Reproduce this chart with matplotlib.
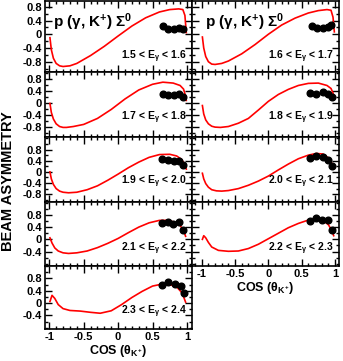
import numpy as np
import matplotlib
matplotlib.use('Agg')
import matplotlib.pyplot as plt
from matplotlib.ticker import MultipleLocator

plt.rcParams['font.family'] = ['Liberation Sans', 'DejaVu Sans']
plt.rcParams['font.weight'] = 'bold'
plt.rcParams['mathtext.fontset'] = 'custom'
plt.rcParams['mathtext.rm'] = 'Liberation Sans:bold'
plt.rcParams['mathtext.bf'] = 'Liberation Sans:bold'
plt.rcParams['mathtext.it'] = 'Liberation Sans:bold'

# energy bins (GeV), one panel each
e_bins = [(1.5, 1.6), (1.6, 1.7), (1.7, 1.8), (1.8, 1.9), (1.9, 2.0),
          (2.0, 2.1), (2.1, 2.2), (2.2, 2.3), (2.3, 2.4)]

# model curves
curve_x_1 = [-0.99, -0.97, -0.94, -0.9, -0.85, -0.8, -0.7, -0.6, -0.4, -0.2, 0.0, 0.2, 0.4, 0.6, 0.75, 0.88, 0.94, 0.97, 0.99]
curve_y_1 = [-0.1, -0.45, -0.7, -0.85, -0.92, -0.94, -0.92, -0.85, -0.62, -0.35, -0.05, 0.24, 0.48, 0.65, 0.72, 0.74, 0.72, 0.55, 0.05]
curve_x_2 = [-0.99, -0.97, -0.94, -0.9, -0.85, -0.8, -0.7, -0.6, -0.4, -0.2, 0.0, 0.2, 0.4, 0.6, 0.75, 0.88, 0.94, 0.97, 0.99]
curve_y_2 = [-0.08, -0.4, -0.65, -0.8, -0.87, -0.88, -0.85, -0.78, -0.57, -0.3, 0.0, 0.27, 0.47, 0.62, 0.69, 0.72, 0.7, 0.5, 0.07]
curve_x_3 = [-0.99, -0.97, -0.94, -0.9, -0.85, -0.8, -0.75, -0.65, -0.5, -0.3, -0.1, 0.1, 0.3, 0.5, 0.65, 0.8, 0.9, 0.95, 0.98, 0.99]
curve_y_3 = [0.0, -0.3, -0.52, -0.68, -0.77, -0.8, -0.8, -0.77, -0.7, -0.5, -0.2, 0.15, 0.45, 0.64, 0.71, 0.68, 0.6, 0.48, 0.25, 0.1]
curve_x_4 = [-0.99, -0.97, -0.94, -0.9, -0.85, -0.8, -0.72, -0.6, -0.45, -0.3, -0.15, 0.0, 0.15, 0.3, 0.45, 0.6, 0.75, 0.88, 0.94, 0.97, 0.99]
curve_y_4 = [-0.07, -0.35, -0.55, -0.68, -0.76, -0.79, -0.8, -0.77, -0.66, -0.5, -0.22, 0.07, 0.3, 0.47, 0.6, 0.67, 0.68, 0.6, 0.5, 0.35, 0.17]
curve_x_5 = [-0.99, -0.97, -0.94, -0.9, -0.85, -0.8, -0.72, -0.6, -0.45, -0.3, -0.15, 0.0, 0.15, 0.3, 0.45, 0.6, 0.75, 0.85, 0.92, 0.96, 0.99]
curve_y_5 = [0.0, -0.25, -0.45, -0.6, -0.69, -0.73, -0.75, -0.73, -0.64, -0.5, -0.3, -0.08, 0.15, 0.35, 0.52, 0.62, 0.63, 0.57, 0.45, 0.3, 0.1]
curve_x_6 = [-0.99, -0.97, -0.94, -0.9, -0.85, -0.78, -0.7, -0.6, -0.45, -0.3, -0.15, 0.0, 0.15, 0.3, 0.45, 0.6, 0.72, 0.82, 0.9, 0.95, 0.98]
curve_y_6 = [-0.05, -0.25, -0.42, -0.55, -0.64, -0.68, -0.69, -0.67, -0.6, -0.48, -0.33, -0.15, 0.07, 0.28, 0.47, 0.6, 0.66, 0.64, 0.5, 0.32, 0.12]
curve_x_7 = [-0.99, -0.96, -0.92, -0.87, -0.8, -0.72, -0.6, -0.45, -0.3, -0.15, 0.0, 0.15, 0.3, 0.45, 0.6, 0.72, 0.82, 0.9, 0.95, 0.98]
curve_y_7 = [0.05, -0.12, -0.28, -0.38, -0.44, -0.46, -0.44, -0.38, -0.27, -0.13, 0.03, 0.22, 0.4, 0.54, 0.62, 0.62, 0.56, 0.45, 0.3, 0.1]
curve_x_8 = [-0.99, -0.97, -0.94, -0.9, -0.85, -0.75, -0.6, -0.45, -0.3, -0.15, 0.0, 0.15, 0.3, 0.45, 0.6, 0.72, 0.82, 0.9, 0.95, 0.98]
curve_y_8 = [0.0, 0.12, 0.05, -0.1, -0.25, -0.36, -0.39, -0.38, -0.3, -0.16, 0.02, 0.2, 0.38, 0.52, 0.63, 0.67, 0.62, 0.48, 0.3, 0.12]
curve_x_9 = [-0.99, -0.96, -0.92, -0.87, -0.8, -0.7, -0.55, -0.4, -0.26, -0.1, 0.05, 0.2, 0.35, 0.5, 0.65, 0.78, 0.86, 0.92, 0.96, 0.98]
curve_y_9 = [0.05, 0.25, 0.15, -0.05, -0.18, -0.24, -0.26, -0.3, -0.33, -0.25, -0.05, 0.18, 0.38, 0.55, 0.62, 0.58, 0.5, 0.35, 0.15, 0.03]

# measured points
data_x_1 = [0.65, 0.73, 0.81, 0.88, 0.94]
data_y_1 = [0.25, 0.15, 0.15, 0.18, 0.15]
data_x_2 = [0.65, 0.73, 0.82, 0.89, 0.94]
data_y_2 = [0.24, 0.17, 0.17, 0.21, 0.26]
data_x_3 = [0.65, 0.73, 0.81, 0.88, 0.94]
data_y_3 = [0.33, 0.27, 0.27, 0.30, 0.20]
data_x_4 = [0.62, 0.71, 0.82, 0.9, 0.96]
data_y_4 = [0.36, 0.32, 0.38, 0.3, 0.21]
data_x_5 = [0.64, 0.73, 0.81, 0.88, 0.94]
data_y_5 = [0.47, 0.42, 0.40, 0.40, 0.25]
data_x_6 = [0.62, 0.72, 0.82, 0.9, 0.96]
data_y_6 = [0.5, 0.56, 0.54, 0.44, 0.2]
data_x_7 = [0.64, 0.72, 0.8, 0.88, 0.94]
data_y_7 = [0.52, 0.56, 0.5, 0.58, 0.3]
data_x_8 = [0.62, 0.72, 0.81, 0.9, 0.96]
data_y_8 = [0.61, 0.7, 0.63, 0.64, 0.3]
data_x_9 = [0.64, 0.73, 0.83, 0.91, 0.96]
data_y_9 = [0.6, 0.69, 0.62, 0.56, 0.31]

curves = [(curve_x_1, curve_y_1), (curve_x_2, curve_y_2), (curve_x_3, curve_y_3),
          (curve_x_4, curve_y_4), (curve_x_5, curve_y_5), (curve_x_6, curve_y_6),
          (curve_x_7, curve_y_7), (curve_x_8, curve_y_8), (curve_x_9, curve_y_9)]
points = [(data_x_1, data_y_1), (data_x_2, data_y_2), (data_x_3, data_y_3),
          (data_x_4, data_y_4), (data_x_5, data_y_5), (data_x_6, data_y_6),
          (data_x_7, data_y_7), (data_x_8, data_y_8), (data_x_9, data_y_9)]

W, H = 343, 361
col_px = [(45, 192), (192, 339)]
row_px = [1, 72, 137, 202, 266, 329]
row_ylim = [(-1.1, 0.97), (-1.12, 1.05), (-1.08, 1.25), (-0.87, 1.22), (-0.84, 1.2)]
col_xlim = [(-1.062, 1.073), (-1.146, 1.06)]
label_y = [0.22, 0.29, 0.31, 0.27, 0.27]

fig = plt.figure(figsize=(W / 100, H / 100), dpi=100)

for i, (lo, hi) in enumerate(e_bins):
  r, c = i // 2, i % 2
  x0, x1 = col_px[c]
  top, bot = row_px[r], row_px[r + 1]
  ax = fig.add_axes([x0 / W, 1 - bot / H, (x1 - x0) / W, (bot - top) / H])
  cx, cy = curves[i]
  ax.plot(cx, cy, color='#ff0000', lw=1.2, zorder=2)
  px, py = points[i]
  ax.plot(px, py, 'o', color='black', ms=4.8, zorder=3)
  ax.set_xlim(*col_xlim[c])
  ax.set_ylim(*row_ylim[r])

  ax.xaxis.set_major_locator(MultipleLocator(0.5))
  ax.xaxis.set_minor_locator(MultipleLocator(0.1))
  if r >= 3:
    ax.set_yticks([-0.4, 0, 0.4, 0.8])
  else:
    ax.set_yticks([-0.8, -0.4, 0, 0.4, 0.8])
  ax.yaxis.set_minor_locator(MultipleLocator(0.2))
  ax.tick_params(which='both', direction='in', top=True, right=True, width=1.0, labelsize=8, pad=2)
  ax.tick_params(which='major', length=5)
  ax.tick_params(which='minor', length=2.5)
  for s in ax.spines.values():
    s.set_linewidth(1.2)

  ax.set_yticklabels(['%g' % t for t in ax.get_yticks()] if c == 0 else [])
  ax.yaxis.set_major_formatter(plt.FuncFormatter(lambda v, p: '%g' % round(v, 2)) if c == 0 else plt.NullFormatter())
  bottom_row = (c == 0 and r == 4) or (c == 1 and r == 3)
  if bottom_row:
    ax.xaxis.set_major_formatter(plt.FuncFormatter(lambda v, p: '%g' % round(v, 2)))
    ax.set_xlabel(r'COS ($\theta_{K^{+}}$)', fontsize=9, fontweight='bold', labelpad=1)
  else:
    ax.xaxis.set_major_formatter(plt.NullFormatter())

  if r == 0:
    ax.text(0.055 if c == 0 else 0.09, 0.7, r'p ($\gamma$, K$^{+}$) $\Sigma^{0}$',
            transform=ax.transAxes, fontsize=11, fontweight='bold', va='center', ha='left')
  ax.text(0.965, label_y[r], r'%.1f < E$_{\gamma}$ < %.1f' % (lo, hi),
          transform=ax.transAxes, fontsize=7.5, fontweight='bold', va='center', ha='right')

fig.text(0.023, 0.499, 'BEAM ASYMMETRY', rotation=90, fontsize=10.5, fontweight='bold',
         ha='center', va='center')

fig.savefig('out.png', dpi=100)
